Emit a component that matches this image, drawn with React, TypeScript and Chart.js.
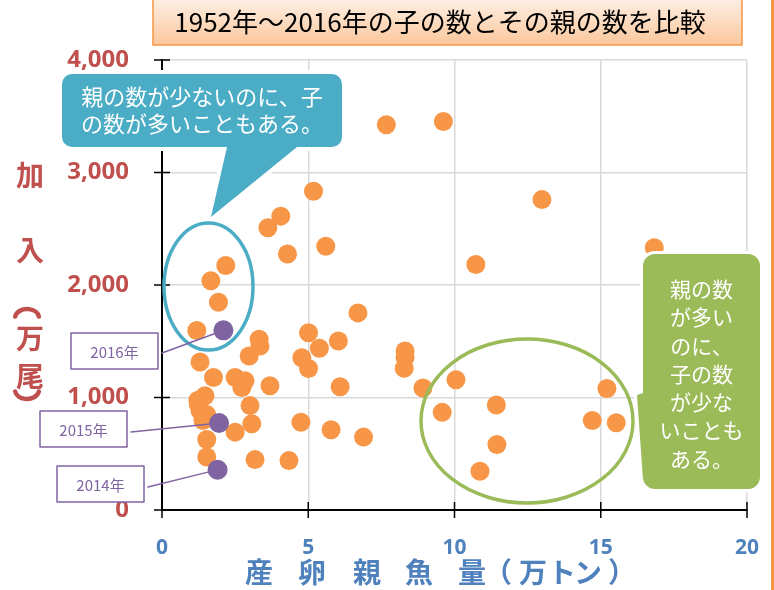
import React, { useEffect, useRef } from 'react';
import { Chart, registerables } from 'chart.js';

Chart.register(...registerables);

// 産卵親魚量（万トン） and 加入（万尾） for 1952–2013
const spawnX = [
  7.67, 9.62, 5.18, 12.99, 4.06, 3.62, 5.6, 16.83, 4.29, 10.73,
  2.18, 1.67, 1.93, 6.7, 1.19, 5.01, 3.32, 3.35, 6.03, 5.38,
  2.98, 4.78, 1.3, 5.01, 8.31, 8.31, 8.28, 1.76, 2.5, 2.84,
  2.73, 3.69, 6.09, 8.92, 10.05, 15.21, 1.47, 1.24, 1.3, 1.53,
  3.01, 9.58, 11.43, 4.75, 3.07, 14.71, 15.53, 5.78, 2.5, 6.89,
  1.53, 11.45, 1.53, 3.18, 4.34, 10.87, 1.4, 1.23,
];
const recruitY = [
  3425, 3454, 2833, 2759, 2612, 2509, 2344, 2332, 2276, 2182,
  2173, 2038, 1846, 1752, 1596, 1575, 1517, 1458, 1502, 1437,
  1369, 1354, 1316, 1257, 1413, 1356, 1259, 1178, 1178, 1148,
  1089, 1104, 1095, 1084, 1157, 1080, 1016, 943, 883, 848,
  928, 868, 934, 780, 766, 795, 775, 713, 692, 648,
  627, 583, 471, 448, 439, 345, 795, 975,
];
// highlighted recent years
const recentYears = ['2014年', '2015年', '2016年'];
const recentX = [1.9, 1.95, 2.1];
const recentY = [358, 773, 1597];

const xTickValues = [0, 5, 10, 15, 20];
const yTickLabels = ['0', '1,000', '2,000', '3,000', '4,000'];

const titleText = '1952年～2016年の子の数とその親の数を比較';
const yTitleChars = ['加', '入', '︵', '万', '尾', '︶'];
const xTitleChars = ['産', '卵', '親', '魚', '量', '（', '万', 'ト', 'ン', '）'];
const blueNote = ['親の数が少ないのに、子', 'の数が多いこともある。'];
const greenNote = ['親の数', 'が多い', 'のに、', '子の数', 'が少な', 'いことも', 'ある。'];

const ORANGE = '#F79646';
const PURPLE = '#8064A2';
const BLUE = '#4BACC6';
const GREEN = '#9BBB59';
const RED = '#C0504D';
const AXISBLUE = '#4F81BD';
const JP = '"Noto Sans CJK JP", "Noto Sans", sans-serif';

const overlayPlugin = {
  id: 'overlay',
  afterDraw(chart: any) {
    const ctx: CanvasRenderingContext2D = chart.ctx;
    const xs = chart.scales.x;
    const ys = chart.scales.y;
    const x0 = xs.getPixelForValue(0);
    const y0 = ys.getPixelForValue(0);
    ctx.save();

    // crossing tick marks
    ctx.strokeStyle = '#000';
    ctx.lineWidth = 1.5;
    xTickValues.forEach((v) => {
      const px = xs.getPixelForValue(v);
      ctx.beginPath();
      ctx.moveTo(px, y0 - 8);
      ctx.lineTo(px, y0 + 8);
      ctx.stroke();
    });
    yTickLabels.forEach((_, i) => {
      const py = ys.getPixelForValue(i * 1000);
      ctx.beginPath();
      ctx.moveTo(x0 - 8, py);
      ctx.lineTo(x0 + 8, py);
      ctx.stroke();
    });

    // title box
    const grad = ctx.createLinearGradient(0, 0, 0, 45);
    grad.addColorStop(0, '#FEEEE2');
    grad.addColorStop(1, '#FBC79C');
    ctx.fillStyle = grad;
    ctx.fillRect(153, -2, 589, 47);
    ctx.strokeStyle = ORANGE;
    ctx.lineWidth = 1.5;
    ctx.strokeRect(153, -2, 589, 47);
    ctx.fillStyle = '#000';
    ctx.font = `26px ${JP}`;
    ctx.textAlign = 'center';
    ctx.textBaseline = 'middle';
    ctx.fillText(titleText, 440, 22);

    // right frame line
    ctx.fillStyle = ORANGE;
    ctx.fillRect(771, 0, 3, 590);

    // y-axis title (vertical)
    ctx.fillStyle = RED;
    ctx.strokeStyle = RED;
    ctx.font = `bold 28px ${JP}`;
    const yTitlePos = [[30, 175], [30, 250], [27, 318], [30, 338], [30, 376], [27, 390]];
    yTitleChars.forEach((c, i) => {
      const [cx, cy] = yTitlePos[i];
      if (c === '︵' || c === '︶') {
        ctx.lineWidth = 4.5;
        ctx.lineCap = 'round';
        ctx.beginPath();
        if (c === '︵') ctx.ellipse(cx, cy, 12, 9, 0, Math.PI * 1.05, Math.PI * 1.95);
        else ctx.ellipse(cx, cy, 12, 9, 0, Math.PI * 0.05, Math.PI * 0.95);
        ctx.stroke();
      } else {
        ctx.fillText(c, cx, cy);
      }
    });

    // x-axis title
    ctx.fillStyle = AXISBLUE;
    ctx.font = `bold 28px ${JP}`;
    const xTitlePos = [259, 312, 367, 419, 472, 498, 533, 562, 588, 622];
    xTitleChars.forEach((c, i) => ctx.fillText(c, xTitlePos[i], 572));

    // ellipses
    ctx.lineWidth = 3.5;
    ctx.strokeStyle = BLUE;
    ctx.beginPath();
    ctx.ellipse(208.5, 286.5, 44.5, 63.5, 0, 0, Math.PI * 2);
    ctx.stroke();
    ctx.strokeStyle = GREEN;
    ctx.beginPath();
    ctx.ellipse(527, 421, 106, 82, 0, 0, Math.PI * 2);
    ctx.stroke();

    // blue callout
    const r = 10;
    ctx.beginPath();
    ctx.moveTo(62 + r, 74);
    ctx.lineTo(342 - r, 74);
    ctx.arcTo(342, 74, 342, 74 + r, r);
    ctx.lineTo(342, 147 - r);
    ctx.arcTo(342, 147, 342 - r, 147, r);
    ctx.lineTo(297, 147);
    ctx.lineTo(211, 217);
    ctx.lineTo(227, 147);
    ctx.lineTo(62 + r, 147);
    ctx.arcTo(62, 147, 62, 147 - r, r);
    ctx.lineTo(62, 74 + r);
    ctx.arcTo(62, 74, 62 + r, 74, r);
    ctx.closePath();
    ctx.strokeStyle = '#fff';
    ctx.lineWidth = 8;
    ctx.lineJoin = 'round';
    ctx.stroke();
    ctx.fillStyle = BLUE;
    ctx.fill();
    ctx.fillStyle = '#fff';
    ctx.font = `22px ${JP}`;
    ctx.textAlign = 'center';
    ctx.fillText(blueNote[0], 202, 97);
    ctx.fillText(blueNote[1], 202, 124);

    // green callout
    const gx = 643, gy = 254, gw = 117, gh = 235, gr = 12;
    ctx.beginPath();
    ctx.moveTo(gx + gr, gy);
    ctx.lineTo(gx + gw - gr, gy);
    ctx.arcTo(gx + gw, gy, gx + gw, gy + gr, gr);
    ctx.lineTo(gx + gw, gy + gh - gr);
    ctx.arcTo(gx + gw, gy + gh, gx + gw - gr, gy + gh, gr);
    ctx.lineTo(gx + gr, gy + gh);
    ctx.arcTo(gx, gy + gh, gx, gy + gh - gr, gr);
    ctx.lineTo(gx, 480);
    ctx.lineTo(637, 395);
    ctx.lineTo(gx, 393);
    ctx.lineTo(gx, gy + gr);
    ctx.arcTo(gx, gy, gx + gr, gy, gr);
    ctx.closePath();
    ctx.strokeStyle = '#fff';
    ctx.lineWidth = 6;
    ctx.stroke();
    ctx.fillStyle = GREEN;
    ctx.fill();
    ctx.fillStyle = '#fff';
    ctx.font = `21px ${JP}`;
    greenNote.forEach((t, i) => ctx.fillText(t, 701.5, 289 + i * 28.3));

    // year label boxes
    const boxes = [
      { x: 57, y: 466, w: 87, h: 36, lx0: 148, ly0: 487 },
      { x: 40, y: 411, w: 87, h: 36, lx0: 131, ly0: 432 },
      { x: 71, y: 333, w: 87, h: 36, lx0: 162, ly0: 353 },
    ];
    ctx.font = `15px ${JP}`;
    boxes.forEach((b, i) => {
      ctx.fillStyle = '#fff';
      ctx.fillRect(b.x, b.y, b.w, b.h);
      ctx.strokeStyle = PURPLE;
      ctx.lineWidth = 1.5;
      ctx.strokeRect(b.x, b.y, b.w, b.h);
      ctx.fillStyle = PURPLE;
      ctx.fillText(recentYears[i], b.x + b.w / 2, b.y + b.h / 2 + 1);
      const px = xs.getPixelForValue(recentX[i]);
      const py = ys.getPixelForValue(recentY[i]);
      const dx = px - b.lx0, dy = py - b.ly0;
      const len = Math.sqrt(dx * dx + dy * dy);
      ctx.beginPath();
      ctx.moveTo(b.lx0, b.ly0);
      ctx.lineTo(px - (dx / len) * 9, py - (dy / len) * 9);
      ctx.stroke();
    });

    ctx.restore();
  },
};

export default function App() {
  const ref = useRef<HTMLCanvasElement>(null);
  useEffect(() => {
    if (!ref.current) return;
    const chart = new Chart(ref.current, {
      type: 'scatter',
      data: {
        datasets: [
          {
            label: 'recent',
            data: recentX.map((x, i) => ({ x, y: recentY[i] })),
            backgroundColor: PURPLE,
            borderWidth: 0,
            pointRadius: 10,
            order: 0,
          },
          {
            label: 'all',
            data: spawnX.map((x, i) => ({ x, y: recruitY[i] })),
            backgroundColor: ORANGE,
            borderWidth: 0,
            pointRadius: 9.5,
            order: 1,
          },
        ],
      },
      options: {
        responsive: false,
        animation: false,
        layout: { padding: { left: 0, right: 27, top: 60, bottom: 0 } },
        plugins: { legend: { display: false }, tooltip: { enabled: false }, title: { display: false } },
        scales: {
          x: {
            type: 'linear',
            min: 0,
            max: 20,
            afterFit: (s: any) => { s.height = 80; s.paddingLeft = 0; s.paddingRight = 0; },
            afterBuildTicks: (s: any) => { s.ticks = xTickValues.map((v) => ({ value: v })); },
            ticks: {
              color: AXISBLUE,
              font: { family: '"Open Sans", sans-serif', size: 21, weight: 'bold' },
              padding: 25,
              maxRotation: 0,
            },
            grid: { color: '#D9D9D9', lineWidth: 1.5, drawTicks: false },
            border: { display: true, color: '#000', width: 2 },
          },
          y: {
            type: 'linear',
            min: 0,
            max: 4000,
            afterFit: (s: any) => { s.width = 162; s.paddingTop = 0; s.paddingBottom = 0; },
            afterBuildTicks: (s: any) => { s.ticks = yTickLabels.map((_, i) => ({ value: i * 1000 })); },
            ticks: {
              color: RED,
              font: { family: '"Open Sans", sans-serif', size: 24, weight: 'bold' },
              padding: 33,
              callback: (v: any) => yTickLabels[Math.round(Number(v) / 1000)],
            },
            grid: { color: '#D9D9D9', lineWidth: 1.5, drawTicks: false },
            border: { display: true, color: '#000', width: 2 },
          },
        },
      },
      plugins: [overlayPlugin],
    });
    return () => chart.destroy();
  }, []);
  return (
    <div style={{ position: 'absolute', left: 0, top: 0, width: 774, height: 590, background: '#fff' }}>
      <canvas ref={ref} width={774} height={590} style={{ display: 'block' }} />
    </div>
  );
}
